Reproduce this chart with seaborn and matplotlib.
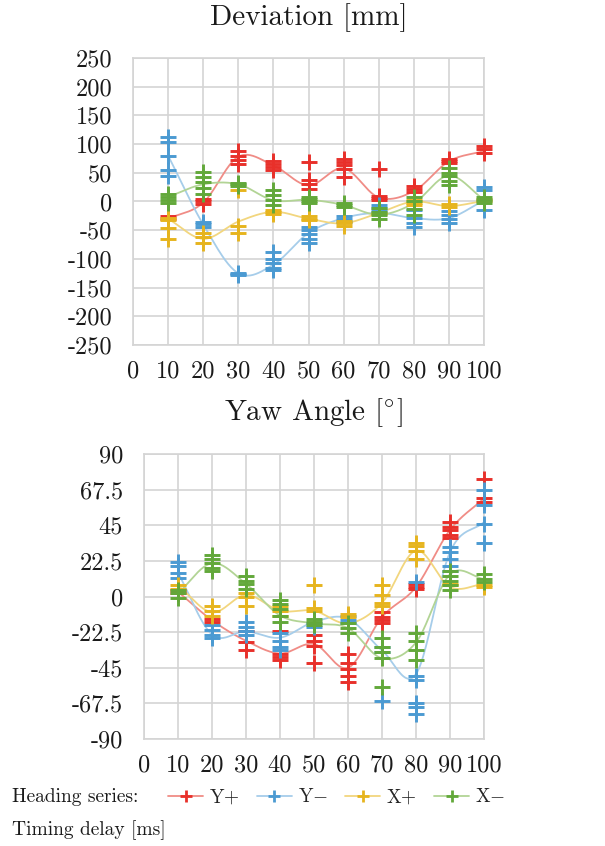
import numpy as np
import pandas as pd
import matplotlib
matplotlib.use("Agg")
import matplotlib.pyplot as plt
from matplotlib.lines import Line2D
from matplotlib.ticker import FuncFormatter
import seaborn as sns
import warnings
warnings.filterwarnings("ignore")

# ---------------- data ----------------
delays = [10, 20, 30, 40, 50, 60, 70, 80, 90, 100]
series_names = ["Y+", "Y\u2212", "X+", "X\u2212"]
legend_labels = [r"Y$+$", r"Y$-$", r"X$+$", r"X$-$"]

# Deviation [mm] - individual trials
dev_yp_pts = [[-25, -30], [5, 0, -5], [88, 80, 72, 65], [70, 65, 60, 55], [68, 38, 31, 22],
              [74, 68, 64, 56, 42], [57, 10, 6, 3], [27, 22, 17], [74, 70, 67], [97, 92, 84]]
dev_ym_pts = [[112, 104, 80, 55, 45], [-35, -40, -45], [-124, -126, -128], [-88, -100, -108, -115, -120],
              [-45, -50, -57, -65, -72], [-25, -30, -35], [-6, -12, -16], [-15, -28, -38, -44],
              [-16, -24, -30, -38], [25, 20, 2, -15]]
dev_xp_pts = [[-28, -32, -47, -66], [-55, -62, -72], [20, -42, -55], [-14, -18, -21], [-25, -30, -33],
              [-34, -38, -42], [-20, -22], [2, -2, -6], [-5, -9], [5, 0]]
dev_xm_pts = [[13, 8, 3, -3], [52, 42, 34, 23, 13], [33, 30, 27], [20, 11, 2, -6], [8, 4, 0, -3],
              [-2, -6, -9], [-12, -18, -24, -30], [8, 0, -13, -24], [58, 50, 44, 36, 28], [8, 3, -3]]
# Deviation [mm] - smoothed series line
dev_yp_line = [-30, -2, 78, 63, 28, 58, 7, 18, 70, 88]
dev_ym_line = [80, -40, -125, -110, -55, -29, -20, -29, -29, 2]
dev_xp_line = [-30, -65, -35, -18, -30, -38, -20, 0, -8, 1]
dev_xm_line = [8, 30, 30, 2, 3, -6, -23, -3, 45, 3]

# Yaw angle [deg] - individual trials
yaw_yp_pts = [[4, 2], [-14, -16], [-22, -29, -34], [-22, -36, -38, -40], [-24, -28, -31, -42],
              [-36, -42, -46, -50, -54], [-10, -13, -15, -17], [8, 6, 5], [47, 44, 42, 39, 37], [74, 62, 60]]
yaw_ym_pts = [[22, 19, 15, 12], [-18, -21, -24, -26], [-16, -19, -22, -24], [-23, -28, -32, -34],
              [-17, -19], [-12, -15, -17], [-32, -35, -66], [9, -50, -53, -67, -70, -74],
              [31, 28, 24, 19, 16], [67, 58, 46, 34]]
yaw_xp_pts = [[7, 5], [-6, -9, -12], [2, 0, -6], [-6, -9, -12], [7, -7, -9], [-11, -13],
              [7, 1, -4, -6], [34, 32, 29, 24], [8, 7], [7, 6]]
yaw_xm_pts = [[4, 2, -1], [26, 24, 21, 18, 16], [13, 10, 8, 5], [-2, -5, -8, -12, -16], [-14, -16, -18],
              [-17, -20, -23], [-26, -32, -35, -39, -57], [-23, -28, -34, -40], [16, 13, 10, 7, 4], [14, 11, 9]]
# Yaw angle - smoothed series line
yaw_yp_line = [3, -15, -28, -36, -30, -45, -13, 6, 42, 62]
yaw_ym_line = [15, -24, -22, -26, -16, -14, -34, -49, 28, 47]
yaw_xp_line = [7, -10, 1, -9, -9, -17, -4, 29, 6, 8]
yaw_xm_line = [2, 21, 8, -12, -17, -20, -39, -29, 14, 11]

dev_ticks = list(range(-250, 251, 50))
yaw_ticks = [-90, -67.5, -45, -22.5, 0, 22.5, 45, 67.5, 90]
x_ticks = list(range(0, 101, 10))

marker_colors = ["#E8302A", "#4B9AD2", "#E6B41E", "#62A83A"]
line_colors = ["#F08C86", "#A6CDEA", "#F2D67E", "#B2D495"]


# ---------------- helpers ----------------
def long_points(pts_list):
    rows = []
    for name, pts in zip(series_names, pts_list):
        for d, vals in zip(delays, pts):
            for v in vals:
                rows.append((name, d, v))
    return pd.DataFrame(rows, columns=["series", "delay", "value"])


def smooth_curve(xs, ys, n=24):
    """Catmull-Rom (Excel-like) smoothing through the given nodes."""
    p = np.column_stack([np.asarray(xs, float), np.asarray(ys, float)])
    pp = np.vstack([p[0] - (p[1] - p[0]), p, p[-1] + (p[-1] - p[-2])])
    out = []
    t = np.linspace(0, 1, n, endpoint=False)[:, None]
    for i in range(1, len(pp) - 2):
        p0, p1, p2, p3 = pp[i - 1], pp[i], pp[i + 1], pp[i + 2]
        m1 = (p2 - p0) / 2.0
        m2 = (p3 - p1) / 2.0
        h00 = 2 * t**3 - 3 * t**2 + 1
        h10 = t**3 - 2 * t**2 + t
        h01 = -2 * t**3 + 3 * t**2
        h11 = t**3 - t**2
        out.append(h00 * p1 + h10 * m1 + h01 * p2 + h11 * m2)
    out.append(p[-1][None, :])
    return np.vstack(out)


def long_lines(line_list):
    frames = []
    for name, vals in zip(series_names, line_list):
        c = smooth_curve(delays, vals)
        frames.append(pd.DataFrame({"series": name, "delay": c[:, 0], "value": c[:, 1],
                                    "order": np.arange(len(c))}))
    return pd.concat(frames, ignore_index=True)


def draw_panel(ax, pts_list, line_list, ylim, yticks):
    ldf = long_lines(line_list)
    sns.lineplot(data=ldf, x="delay", y="value", hue="series", hue_order=series_names,
                 palette=line_colors, sort=False, estimator=None, units="series",
                 linewidth=1.3, legend=False, ax=ax, zorder=2)
    pdf = long_points(pts_list)
    for name, col in zip(series_names, marker_colors):
        sub = pdf[pdf["series"] == name]
        sns.scatterplot(data=sub, x="delay", y="value", color=col, marker="+",
                        s=140, linewidth=2.1, legend=False, ax=ax, zorder=3, clip_on=False)
    ax.set_xlim(0, 100)
    ax.set_ylim(*ylim)
    ax.set_xticks(x_ticks)
    ax.set_yticks(yticks)
    ax.yaxis.set_major_formatter(FuncFormatter(lambda v, p: f"{v:g}"))
    ax.grid(True, color="#D4D4D4", linewidth=1.2)
    ax.set_axisbelow(True)
    for sp in ax.spines.values():
        sp.set_color("#D4D4D4")
        sp.set_linewidth(1.2)
    ax.tick_params(axis="both", length=0, labelsize=17.5, colors="#1a1a1a")
    ax.tick_params(axis="y", pad=15)
    ax.tick_params(axis="x", pad=11)
    ax.set_xlabel("")
    ax.set_ylabel("")


# ---------------- figure ----------------
sns.set_theme(style="white")
plt.rcParams["font.family"] = ["cmr10", "DejaVu Serif"]
plt.rcParams["mathtext.fontset"] = "cm"
plt.rcParams["axes.unicode_minus"] = False
plt.rcParams["axes.formatter.use_mathtext"] = False

W, H = 605, 846
fig = plt.figure(figsize=(W / 100, H / 100), dpi=100)
fig.patch.set_facecolor("white")

ax1 = fig.add_axes([133 / W, 1 - 345 / H, 351 / W, 287 / H])
ax2 = fig.add_axes([144 / W, 1 - 739 / H, 340 / W, 285 / H])

draw_panel(ax1, [dev_yp_pts, dev_ym_pts, dev_xp_pts, dev_xm_pts],
           [dev_yp_line, dev_ym_line, dev_xp_line, dev_xm_line], (-250, 250), dev_ticks)
draw_panel(ax2, [yaw_yp_pts, yaw_ym_pts, yaw_xp_pts, yaw_xm_pts],
           [yaw_yp_line, yaw_ym_line, yaw_xp_line, yaw_xm_line], (-90, 90), yaw_ticks)

fig.text(309 / W, 1 - 18 / H, "Deviation [mm]", ha="center", va="center", fontsize=21, color="#1a1a1a")
fig.text(313 / W, 1 - 413 / H, r"Yaw Angle $[{}^{\circ}]$", ha="center", va="center", fontsize=21,
         color="#1a1a1a")

fig.text(12 / W, 1 - 797 / H, "Heading series:", ha="left", va="center", fontsize=14, color="#1a1a1a")
fig.text(12 / W, 1 - 830 / H, "Timing delay [ms]", ha="left", va="center", fontsize=14, color="#1a1a1a")

handles = [Line2D([0], [0], color=lc, lw=1.3, marker="+", markersize=8, markeredgewidth=2.0,
                  markeredgecolor=mc) for lc, mc in zip(line_colors, marker_colors)]
fig.legend(handles, legend_labels, loc="center left", bbox_to_anchor=(168 / W, 1 - 797 / H),
           ncol=4, frameon=False, fontsize=14, handlelength=1.8, handletextpad=0.3,
           columnspacing=0.9, borderaxespad=0, borderpad=0)

fig.savefig("out.png", dpi=100, facecolor="white")
